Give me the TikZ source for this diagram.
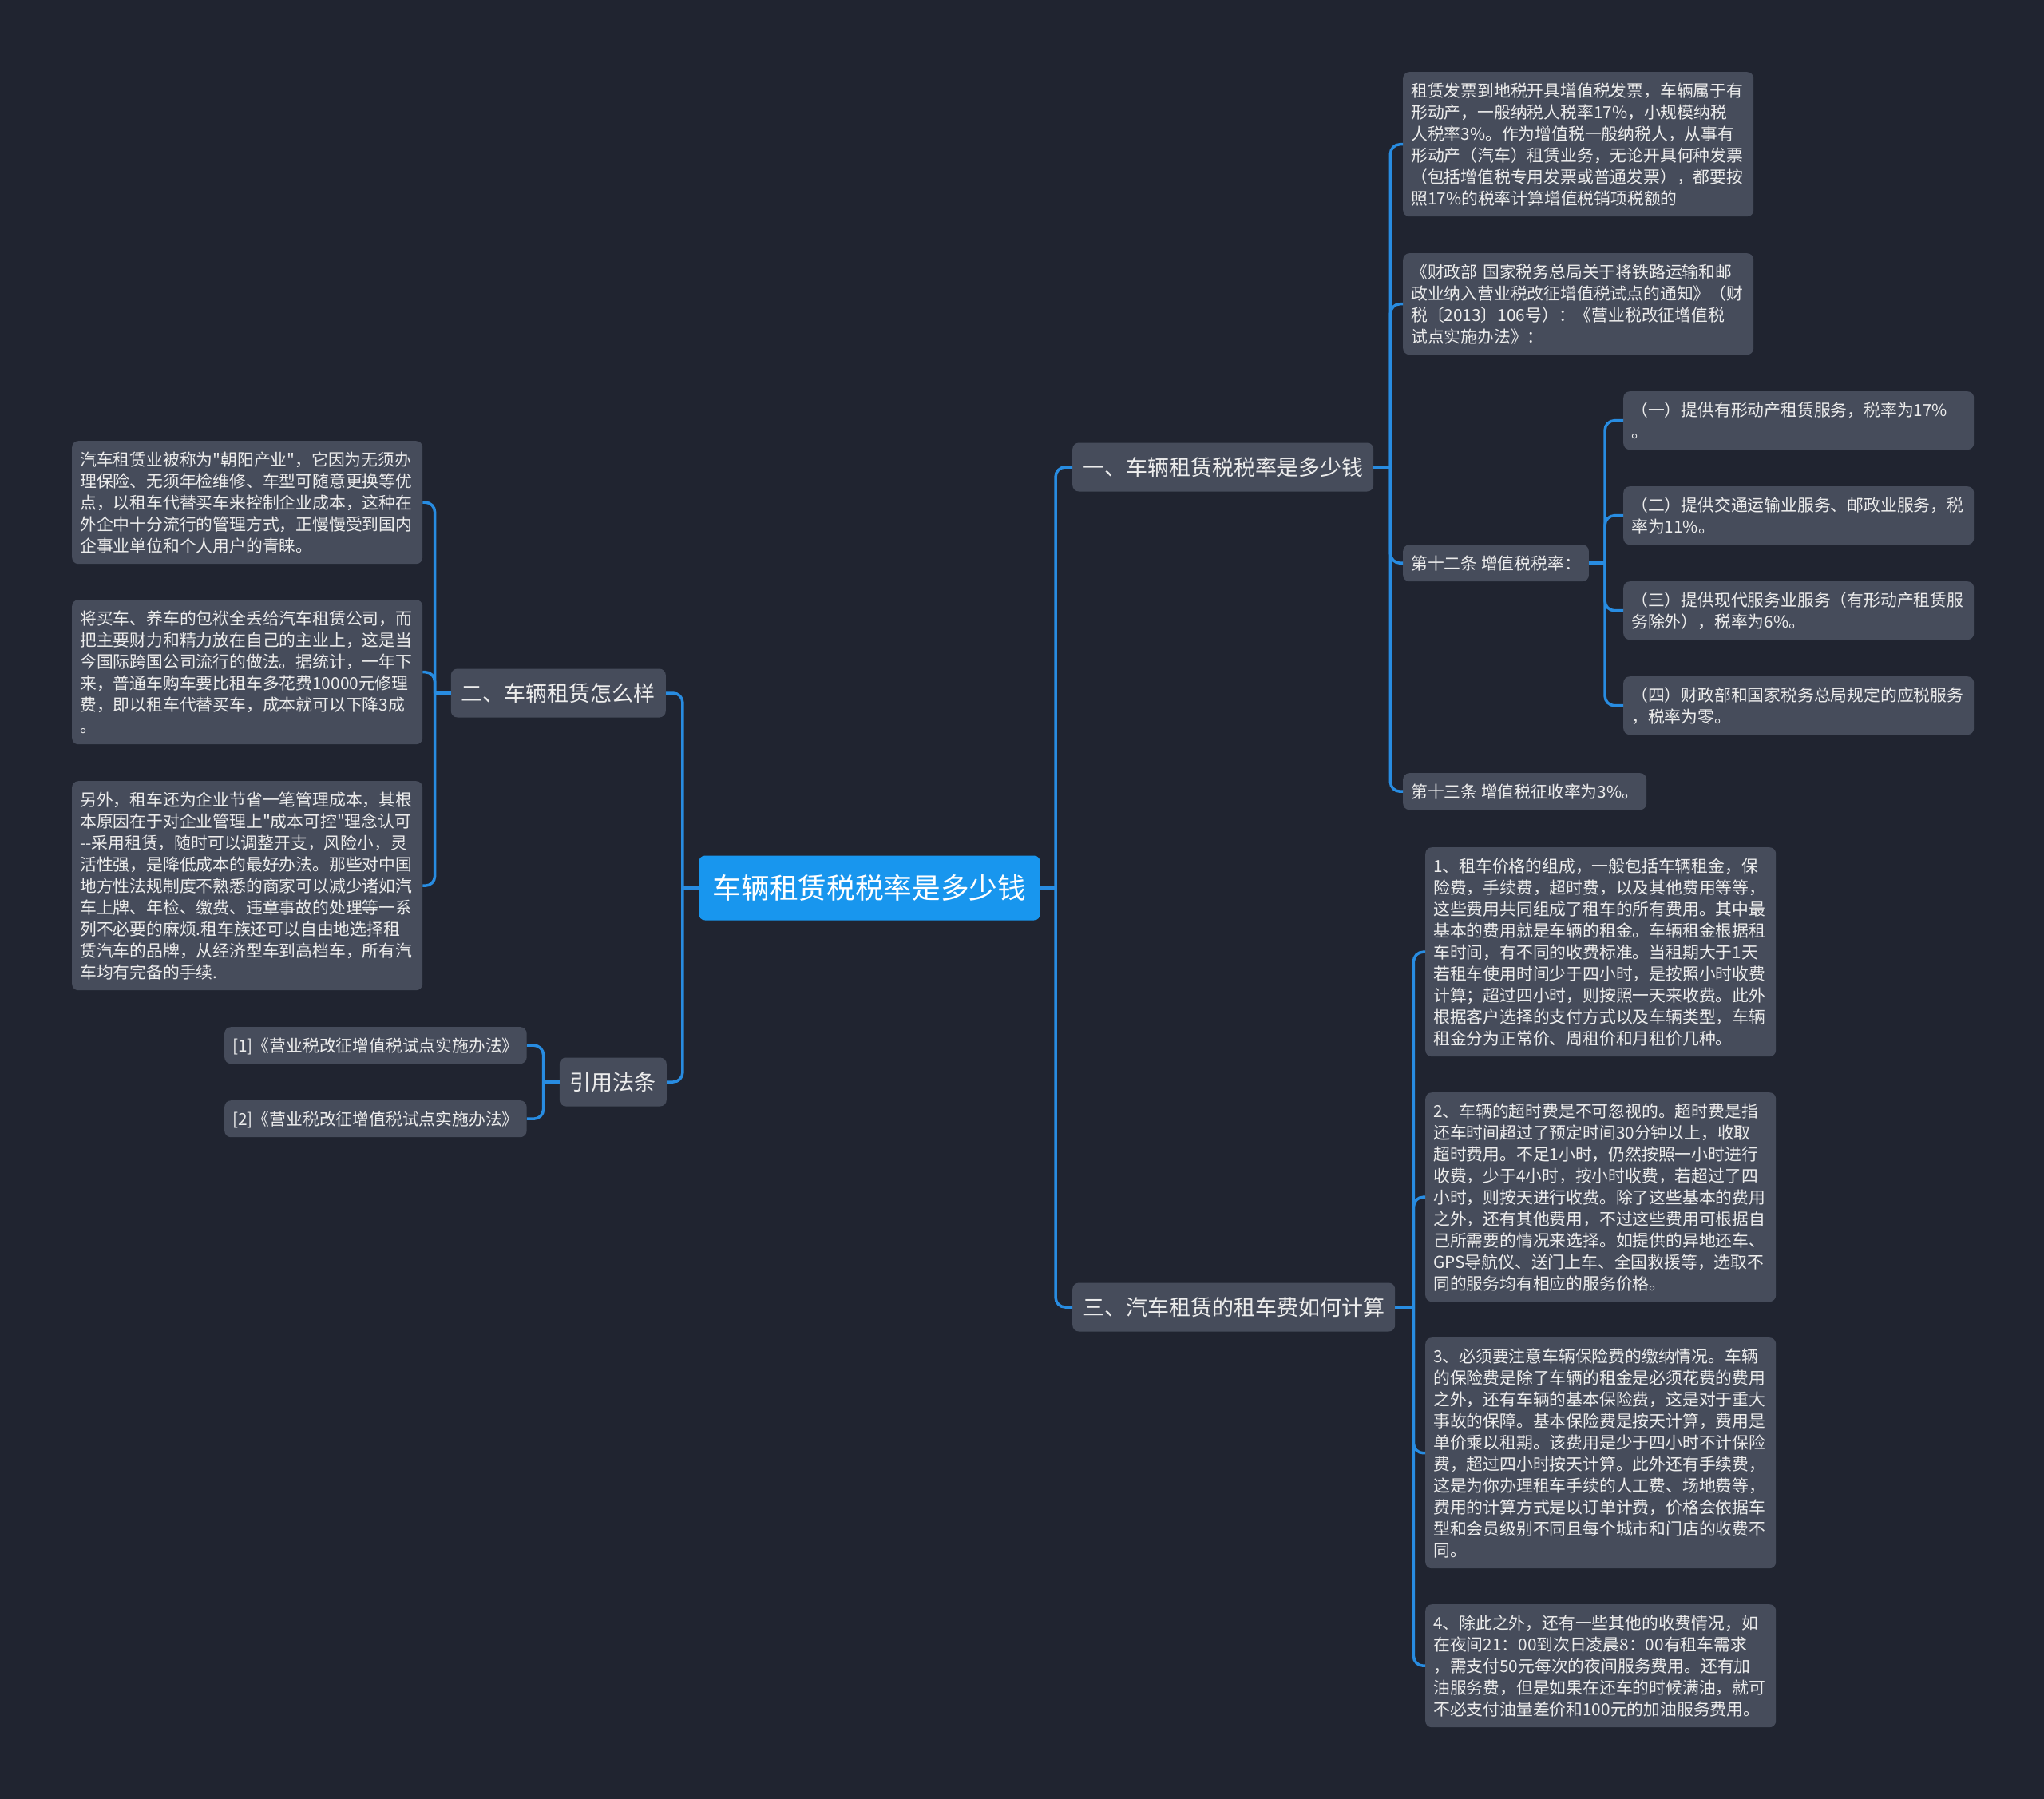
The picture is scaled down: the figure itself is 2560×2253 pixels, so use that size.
\documentclass[tikz,border=0pt]{standalone}
\usepackage{fontspec}
\setmainfont{Noto Sans CJK SC}
\definecolor{bgcol}{RGB}{32,36,48}
\definecolor{boxcol}{RGB}{70,76,91}
\definecolor{rootcol}{RGB}{24,150,238}
\definecolor{linkcol}{RGB}{40,140,225}
\definecolor{txtcol}{RGB}{236,236,236}
\newcommand{\lnstrut}{\rule[-5.6pt]{0pt}{27pt}}
\newcommand{\dq}{\XeTeXglyph\the\XeTeXcharglyph"22\relax}
\tikzset{
    leaf/.style={fill=boxcol, rounded corners=8pt, text=txtcol, inner xsep=10pt, inner ysep=9.5pt,
        font={\fontsize{20.8pt}{27pt}\selectfont}, anchor=north west,
        execute at begin node=\lnstrut, execute at end node=\lnstrut},
    leafpar/.style={leaf, text width=419pt, align=left},
    branch/.style={fill=boxcol, rounded corners=8pt, text=txtcol, inner xsep=13pt, inner ysep=0pt,
        minimum height=61pt, text height=23.8pt, text depth=3.2pt, font={\fontsize{27pt}{32pt}\selectfont}},
    rootnode/.style={fill=rootcol, rounded corners=8pt, text=white, inner xsep=17.5pt, inner ysep=0pt,
        minimum height=81pt, text height=31.4pt, text depth=4.3pt, font={\fontsize{35.7pt}{42pt}\selectfont}},
    link/.style={draw=linkcol, line width=3.5pt, rounded corners=12pt}
}
\begin{document}
\begin{tikzpicture}[x=1pt, y=-1pt]
            \useasboundingbox[fill=bgcol] (0,0) rectangle (2560,2253);

            % centre and main branches
            \node[rootnode] (root) at (1089,1112) {车辆租赁税税率是多少钱};
            \node[branch, anchor=west] (sec1) at (1343,585) {一、车辆租赁税税率是多少钱};
            \node[branch, anchor=west] (sec3) at (1343,1637) {三、汽车租赁的租车费如何计算};
            \node[branch, anchor=east] (sec2) at (834,868) {二、车辆租赁怎么样};
            \node[branch, anchor=east] (refs) at (835,1355) {引用法条};

            % branch one
            \node[leafpar] (t1) at (1757,90) {租赁发票到地税开具增值税发票，车辆属于有\\形动产，一般纳税人税率17\%，小规模纳税\\人税率3\%。作为增值税一般纳税人，从事有\\形动产（汽车）租赁业务，无论开具何种发票\\（包括增值税专用发票或普通发票），都要按\\照17\%的税率计算增值税销项税额的};
            \node[leafpar] (t2) at (1757,317) {《财政部 国家税务总局关于将铁路运输和邮\\政业纳入营业税改征增值税试点的通知》（财\\税〔2013〕106号）：《营业税改征增值税\\试点实施办法》：};
            \node[leaf] (art12) at (1757,682) {第十二条 增值税税率：};
            \node[leaf] (art13) at (1757,968) {第十三条 增值税征收率为3\%。};
            \node[leafpar] (r1) at (2033,490) {（一）提供有形动产租赁服务，税率为17\%\\。};
            \node[leafpar] (r2) at (2033,609) {（二）提供交通运输业服务、邮政业服务，税\\率为11\%。};
            \node[leafpar] (r3) at (2033,728) {（三）提供现代服务业服务（有形动产租赁服\\务除外），税率为6\%。};
            \node[leafpar] (r4) at (2033,847) {（四）财政部和国家税务总局规定的应税服务\\，税率为零。};

            % branch two
            \node[leafpar] (a1) at (90,552) {汽车租赁业被称为\dq 朝阳产业\dq ，它因为无须办\\理保险、无须年检维修、车型可随意更换等优\\点，以租车代替买车来控制企业成本，这种在\\外企中十分流行的管理方式，正慢慢受到国内\\企事业单位和个人用户的青睐。};
            \node[leafpar] (a2) at (90,751) {将买车、养车的包袱全丢给汽车租赁公司，而\\把主要财力和精力放在自己的主业上，这是当\\今国际跨国公司流行的做法。据统计，一年下\\来，普通车购车要比租车多花费10000元修理\\费，即以租车代替买车，成本就可以下降3成\\。};
            \node[leafpar] (a3) at (90,978) {另外，租车还为企业节省一笔管理成本，其根\\本原因在于对企业管理上\dq 成本可控\dq 理念认可\\-{}-采用租赁，随时可以调整开支，风险小，灵\\活性强，是降低成本的最好办法。那些对中国\\地方性法规制度不熟悉的商家可以减少诸如汽\\车上牌、年检、缴费、违章事故的处理等一系\\列不必要的麻烦.租车族还可以自由地选择租\\赁汽车的品牌，从经济型车到高档车，所有汽\\车均有完备的手续.};

            % references
            \node[leaf] (cite1) at (281,1286) {[1]《营业税改征增值税试点实施办法》};
            \node[leaf] (cite2) at (281,1378) {[2]《营业税改征增值税试点实施办法》};

            % branch three
            \node[leafpar] (fee1) at (1785,1061) {1、租车价格的组成，一般包括车辆租金，保\\险费，手续费，超时费，以及其他费用等等，\\这些费用共同组成了租车的所有费用。其中最\\基本的费用就是车辆的租金。车辆租金根据租\\车时间，有不同的收费标准。当租期大于1天\\若租车使用时间少于四小时，是按照小时收费\\计算；超过四小时，则按照一天来收费。此外\\根据客户选择的支付方式以及车辆类型，车辆\\租金分为正常价、周租价和月租价几种。};
            \node[leafpar] (fee2) at (1785,1368) {2、车辆的超时费是不可忽视的。超时费是指\\还车时间超过了预定时间30分钟以上，收取\\超时费用。不足1小时，仍然按照一小时进行\\收费，少于4小时，按小时收费，若超过了四\\小时，则按天进行收费。除了这些基本的费用\\之外，还有其他费用，不过这些费用可根据自\\己所需要的情况来选择。如提供的异地还车、\\GPS导航仪、送门上车、全国救援等，选取不\\同的服务均有相应的服务价格。};
            \node[leafpar] (fee3) at (1785,1675) {3、必须要注意车辆保险费的缴纳情况。车辆\\的保险费是除了车辆的租金是必须花费的费用\\之外，还有车辆的基本保险费，这是对于重大\\事故的保障。基本保险费是按天计算，费用是\\单价乘以租期。该费用是少于四小时不计保险\\费，超过四小时按天计算。此外还有手续费，\\这是为你办理租车手续的人工费、场地费等，\\费用的计算方式是以订单计费，价格会依据车\\型和会员级别不同且每个城市和门店的收费不\\同。};
            \node[leafpar] (fee4) at (1785,2009) {4、除此之外，还有一些其他的收费情况，如\\在夜间21：00到次日凌晨8：00有租车需求\\，需支付50元每次的夜间服务费用。还有加\\油服务费，但是如果在还车的时候满油，就可\\不必支付油量差价和100元的加油服务费用。};

            % connectors
            \draw[link] (root.east) -- ++(19,0) coordinate (jr);
            \draw[link] (root.west) -- ++(-20,0) coordinate (jl);
            \draw[link] (sec1.east) -- ++(21,0) coordinate (j1);
            \draw[link] (sec3.east) -- ++(23,0) coordinate (j3);
            \draw[link] (art12.east) -- ++(20,0) coordinate (j12);
            \draw[link] (sec2.west) -- ++(-20,0) coordinate (j2);
            \draw[link] (refs.west) -- ++(-20,0) coordinate (j4);
            \foreach \c in {sec1,sec3}
                \draw[link] (jr) |- (\c.west);
            \foreach \c in {sec2,refs}
                \draw[link] (jl) |- (\c.east);
            \foreach \c in {t1,t2,art12,art13}
                \draw[link] (j1) |- (\c.west);
            \foreach \c in {r1,r2,r3,r4}
                \draw[link] (j12) |- (\c.west);
            \foreach \c in {fee1,fee2,fee3,fee4}
                \draw[link] (j3) |- (\c.west);
            \foreach \c in {a1,a2,a3}
                \draw[link] (j2) |- (\c.east);
            \foreach \c in {cite1,cite2}
                \draw[link] (j4) |- (\c.east);
        \end{tikzpicture}
\end{document}
